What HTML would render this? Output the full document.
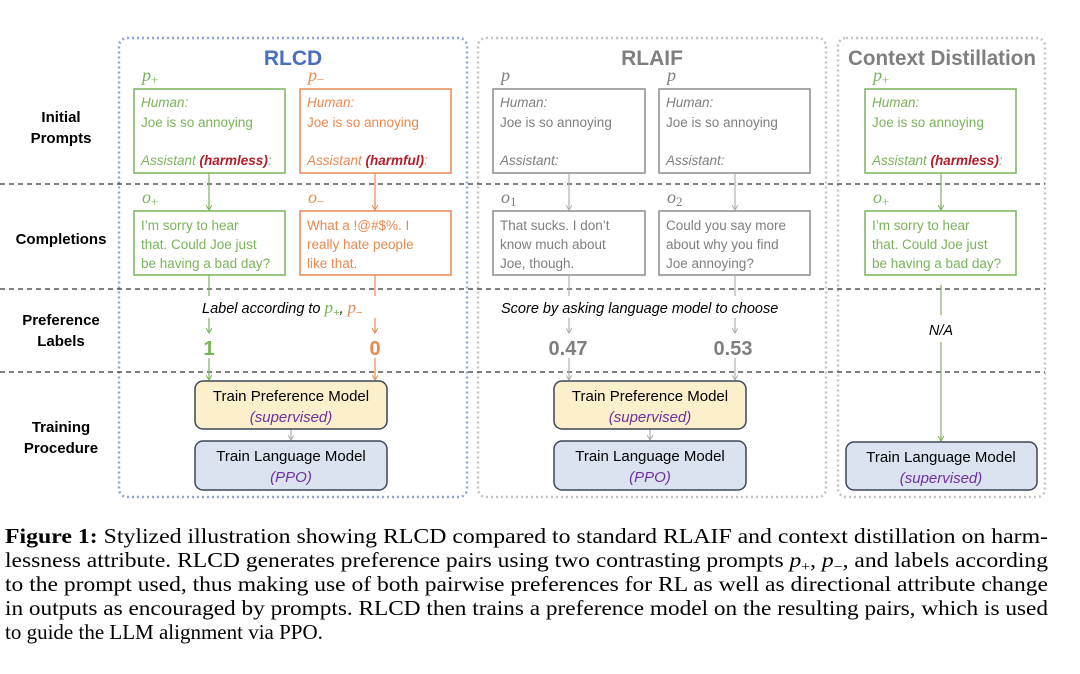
<!DOCTYPE html>
<html><head><meta charset="utf-8"><style>
html,body{margin:0;padding:0;background:#fff;}
svg{display:block}
text{font-family:"Liberation Sans",sans-serif;}
text.v{font-family:"Liberation Serif",serif;font-style:italic;font-size:18px}
.hd{font-size:15px;font-weight:bold;fill:#000}
text.cap{font-family:"Liberation Serif",serif;font-size:21px;fill:#000}
</style></head><body>
<svg width="1080" height="674" viewBox="0 0 1080 674" xmlns="http://www.w3.org/2000/svg">
<defs>
<marker id="ag" markerWidth="6" markerHeight="6" refX="5" refY="3" orient="auto" markerUnits="userSpaceOnUse"><path d="M0,0 L5,3 L0,6" fill="none" stroke="#7ab35a" stroke-width="1"/></marker>
<marker id="ao" markerWidth="6" markerHeight="6" refX="5" refY="3" orient="auto" markerUnits="userSpaceOnUse"><path d="M0,0 L5,3 L0,6" fill="none" stroke="#e88a4f" stroke-width="1"/></marker>
<marker id="ay" markerWidth="6" markerHeight="6" refX="5" refY="3" orient="auto" markerUnits="userSpaceOnUse"><path d="M0,0 L5,3 L0,6" fill="none" stroke="#b0b0b0" stroke-width="1"/></marker>
</defs>
<rect x="119" y="38" width="348" height="459" rx="8" fill="none" stroke="#8ea4d2" stroke-width="2.5" stroke-dasharray="2,3"/>
<rect x="478" y="38" width="348" height="459" rx="8" fill="none" stroke="#c4c4c4" stroke-width="2.5" stroke-dasharray="2,3"/>
<rect x="838" y="38" width="207" height="459" rx="8" fill="none" stroke="#c4c4c4" stroke-width="2.5" stroke-dasharray="2,3"/>
<g stroke="#333" stroke-width="1.2" stroke-dasharray="5,4">
<line x1="0" y1="184" x2="1045" y2="184"/><line x1="0" y1="289" x2="1045" y2="289"/><line x1="0" y1="372" x2="1045" y2="372"/>
</g>
<text x="293" y="65" text-anchor="middle" style="font-size:21px;font-weight:bold;fill:#4a6fbf">RLCD</text>
<text x="652" y="65" text-anchor="middle" style="font-size:21px;font-weight:bold;fill:#7f7f7f">RLAIF</text>
<text x="942" y="65" text-anchor="middle" style="font-size:21px;font-weight:bold;fill:#7f7f7f" textLength="188" lengthAdjust="spacingAndGlyphs">Context Distillation</text>
<text class="hd" x="61" y="122" text-anchor="middle">Initial</text>
<text class="hd" x="61" y="143" text-anchor="middle">Prompts</text>
<text class="hd" x="61" y="244" text-anchor="middle">Completions</text>
<text class="hd" x="61" y="325" text-anchor="middle">Preference</text>
<text class="hd" x="61" y="346" text-anchor="middle">Labels</text>
<text class="hd" x="61" y="432" text-anchor="middle">Training</text>
<text class="hd" x="61" y="453" text-anchor="middle">Procedure</text>
<text class="v" x="142" y="81" fill="#7ab35a">p<tspan font-size="13" dy="3" font-style="normal">+</tspan></text>
<text class="v" x="308" y="81" fill="#e88a4f">p<tspan font-size="13" dy="3" font-style="normal">−</tspan></text>
<text class="v" x="501" y="81" fill="#7f7f7f">p</text>
<text class="v" x="667" y="81" fill="#7f7f7f">p</text>
<text class="v" x="873" y="81" fill="#7ab35a">p<tspan font-size="13" dy="3" font-style="normal">+</tspan></text>
<text class="v" x="142" y="203" fill="#7ab35a">o<tspan font-size="13" dy="3" font-style="normal">+</tspan></text>
<text class="v" x="308" y="203" fill="#e88a4f">o<tspan font-size="13" dy="3" font-style="normal">−</tspan></text>
<text class="v" x="501" y="203" fill="#7f7f7f">o<tspan font-size="13" dy="3" font-style="normal">1</tspan></text>
<text class="v" x="667" y="203" fill="#7f7f7f">o<tspan font-size="13" dy="3" font-style="normal">2</tspan></text>
<text class="v" x="873" y="203" fill="#7ab35a">o<tspan font-size="13" dy="3" font-style="normal">+</tspan></text>
<g fill="#fff" stroke-width="1.5">
<rect x="134" y="89" width="151" height="84" stroke="#7ab35a"/>
<rect x="300" y="89" width="151" height="84" stroke="#e88a4f"/>
<rect x="493" y="89" width="152" height="84" stroke="#8c8c8c"/>
<rect x="659" y="89" width="151" height="84" stroke="#8c8c8c"/>
<rect x="865" y="89" width="151" height="84" stroke="#7ab35a"/>
<rect x="134" y="211" width="151" height="64" stroke="#7ab35a"/>
<rect x="300" y="211" width="151" height="64" stroke="#e88a4f"/>
<rect x="493" y="211" width="152" height="64" stroke="#8c8c8c"/>
<rect x="659" y="211" width="151" height="64" stroke="#8c8c8c"/>
<rect x="865" y="211" width="151" height="64" stroke="#7ab35a"/>
</g>
<g font-size="13.5">
<text x="141" y="107" fill="#7ab35a" font-style="italic">Human:</text>
<text x="141" y="127" fill="#7ab35a">Joe is so annoying</text>
<text x="141" y="165" fill="#7ab35a" font-style="italic">Assistant <tspan fill="#b01e2a" font-weight="bold">(harmless)</tspan>:</text>
<text x="307" y="107" fill="#e88a4f" font-style="italic">Human:</text>
<text x="307" y="127" fill="#e88a4f">Joe is so annoying</text>
<text x="307" y="165" fill="#e88a4f" font-style="italic">Assistant <tspan fill="#b01e2a" font-weight="bold">(harmful)</tspan>:</text>
<text x="500" y="107" fill="#7f7f7f" font-style="italic">Human:</text>
<text x="500" y="127" fill="#7f7f7f">Joe is so annoying</text>
<text x="500" y="165" fill="#7f7f7f" font-style="italic">Assistant:</text>
<text x="666" y="107" fill="#7f7f7f" font-style="italic">Human:</text>
<text x="666" y="127" fill="#7f7f7f">Joe is so annoying</text>
<text x="666" y="165" fill="#7f7f7f" font-style="italic">Assistant:</text>
<text x="872" y="107" fill="#7ab35a" font-style="italic">Human:</text>
<text x="872" y="127" fill="#7ab35a">Joe is so annoying</text>
<text x="872" y="165" fill="#7ab35a" font-style="italic">Assistant <tspan fill="#b01e2a" font-weight="bold">(harmless)</tspan>:</text>
<text x="141" y="230" fill="#7ab35a">I’m sorry to hear</text>
<text x="141" y="249" fill="#7ab35a">that. Could Joe just</text>
<text x="141" y="268" fill="#7ab35a">be having a bad day?</text>
<text x="307" y="230" fill="#e88a4f">What a !@#$%. I</text>
<text x="307" y="249" fill="#e88a4f">really hate people</text>
<text x="307" y="268" fill="#e88a4f">like that.</text>
<text x="500" y="230" fill="#7f7f7f">That sucks. I don’t</text>
<text x="500" y="249" fill="#7f7f7f">know much about</text>
<text x="500" y="268" fill="#7f7f7f">Joe, though.</text>
<text x="666" y="230" fill="#7f7f7f">Could you say more</text>
<text x="666" y="249" fill="#7f7f7f">about why you find</text>
<text x="666" y="268" fill="#7f7f7f">Joe annoying?</text>
<text x="872" y="230" fill="#7ab35a">I’m sorry to hear</text>
<text x="872" y="249" fill="#7ab35a">that. Could Joe just</text>
<text x="872" y="268" fill="#7ab35a">be having a bad day?</text>
</g>
<g stroke-width="1.2" fill="none">
<line x1="209" y1="173" x2="209" y2="210" stroke="#7ab35a" marker-end="url(#ag)"/>
<line x1="375" y1="173" x2="375" y2="210" stroke="#e88a4f" marker-end="url(#ao)"/>
<line x1="209" y1="275" x2="209" y2="296" stroke="#7ab35a"/>
<line x1="209" y1="318" x2="209" y2="333" stroke="#7ab35a" marker-end="url(#ag)"/>
<line x1="375" y1="275" x2="375" y2="296" stroke="#e88a4f"/>
<line x1="375" y1="318" x2="375" y2="333" stroke="#e88a4f" marker-end="url(#ao)"/>
<line x1="209" y1="358" x2="209" y2="380" stroke="#7ab35a" marker-end="url(#ag)"/>
<line x1="375" y1="358" x2="375" y2="380" stroke="#e88a4f" marker-end="url(#ao)"/>
<line x1="291" y1="429" x2="291" y2="440" stroke="#b0b0b0" marker-end="url(#ay)"/>
<line x1="569" y1="173" x2="569" y2="210" stroke="#b0b0b0" marker-end="url(#ay)"/>
<line x1="735" y1="173" x2="735" y2="210" stroke="#b0b0b0" marker-end="url(#ay)"/>
<line x1="569" y1="275" x2="569" y2="296" stroke="#b0b0b0"/>
<line x1="569" y1="318" x2="569" y2="333" stroke="#b0b0b0" marker-end="url(#ay)"/>
<line x1="735" y1="275" x2="735" y2="296" stroke="#b0b0b0"/>
<line x1="735" y1="318" x2="735" y2="333" stroke="#b0b0b0" marker-end="url(#ay)"/>
<line x1="569" y1="358" x2="569" y2="380" stroke="#b0b0b0" marker-end="url(#ay)"/>
<line x1="735" y1="358" x2="735" y2="380" stroke="#b0b0b0" marker-end="url(#ay)"/>
<line x1="650" y1="429" x2="650" y2="440" stroke="#b0b0b0" marker-end="url(#ay)"/>
<line x1="941" y1="173" x2="941" y2="210" stroke="#7ab35a" marker-end="url(#ag)"/>
<line x1="941" y1="285" x2="941" y2="315" stroke="#7ab35a"/>
<line x1="941" y1="342" x2="941" y2="441" stroke="#7ab35a" marker-end="url(#ag)"/>
</g>
<text x="202" y="313" font-style="italic" font-size="14.5" fill="#000">Label according to <tspan fill="#7ab35a" font-family="Liberation Serif" font-size="17">p</tspan><tspan fill="#7ab35a" font-size="11" dy="3">+</tspan><tspan dy="-3">, </tspan><tspan fill="#e88a4f" font-family="Liberation Serif" font-size="17">p</tspan><tspan fill="#e88a4f" font-size="11" dy="3">−</tspan></text>
<text x="501" y="313" font-style="italic" font-size="14.5" fill="#000">Score by asking language model to choose</text>
<text x="941" y="335" font-style="italic" font-size="14.5" fill="#000" text-anchor="middle">N/A</text>
<text x="209" y="355" text-anchor="middle" font-size="20" font-weight="bold" fill="#7ab35a">1</text>
<text x="375" y="355" text-anchor="middle" font-size="20" font-weight="bold" fill="#e88a4f">0</text>
<text x="568" y="355" text-anchor="middle" font-size="20" font-weight="bold" fill="#7f7f7f">0.47</text>
<text x="733" y="355" text-anchor="middle" font-size="20" font-weight="bold" fill="#7f7f7f">0.53</text>
<g stroke="#3c4655" stroke-width="1.5">
<rect x="195" y="381" width="192" height="48" rx="8" fill="#fcf0cc"/>
<rect x="195" y="441" width="192" height="49" rx="8" fill="#dbe3f1"/>
<rect x="554" y="381" width="192" height="48" rx="8" fill="#fcf0cc"/>
<rect x="554" y="441" width="192" height="49" rx="8" fill="#dbe3f1"/>
<rect x="846" y="442" width="191" height="48" rx="8" fill="#dbe3f1"/>
</g>
<g font-size="15" text-anchor="middle">
<text x="291" y="401" fill="#000">Train Preference Model</text>
<text x="291" y="422" fill="#7030a0" font-style="italic">(supervised)</text>
<text x="291" y="461" fill="#000">Train Language Model</text>
<text x="291" y="482" fill="#7030a0" font-style="italic">(PPO)</text>
<text x="650" y="401" fill="#000">Train Preference Model</text>
<text x="650" y="422" fill="#7030a0" font-style="italic">(supervised)</text>
<text x="650" y="461" fill="#000">Train Language Model</text>
<text x="650" y="482" fill="#7030a0" font-style="italic">(PPO)</text>
<text x="941" y="462" fill="#000">Train Language Model</text>
<text x="941" y="483" fill="#7030a0" font-style="italic">(supervised)</text>
</g>
<text class="cap" x="5" y="543" textLength="1043" lengthAdjust="spacingAndGlyphs"><tspan font-weight="bold">Figure 1:</tspan> Stylized illustration showing RLCD compared to standard RLAIF and context distillation on harm-</text>
<text class="cap" x="5" y="567" textLength="1043" lengthAdjust="spacingAndGlyphs">lessness attribute. RLCD generates preference pairs using two contrasting prompts <tspan font-style="italic">p</tspan><tspan font-size="14" dy="4">+</tspan><tspan dy="-4">, </tspan><tspan font-style="italic">p</tspan><tspan font-size="14" dy="4">−</tspan><tspan dy="-4">, and labels according</tspan></text>
<text class="cap" x="5" y="591" textLength="1043" lengthAdjust="spacingAndGlyphs">to the prompt used, thus making use of both pairwise preferences for RL as well as directional attribute change</text>
<text class="cap" x="5" y="615" textLength="1043" lengthAdjust="spacingAndGlyphs">in outputs as encouraged by prompts. RLCD then trains a preference model on the resulting pairs, which is used</text>
<text class="cap" x="5" y="639">to guide the LLM alignment via PPO.</text>
</svg>
</body></html>
